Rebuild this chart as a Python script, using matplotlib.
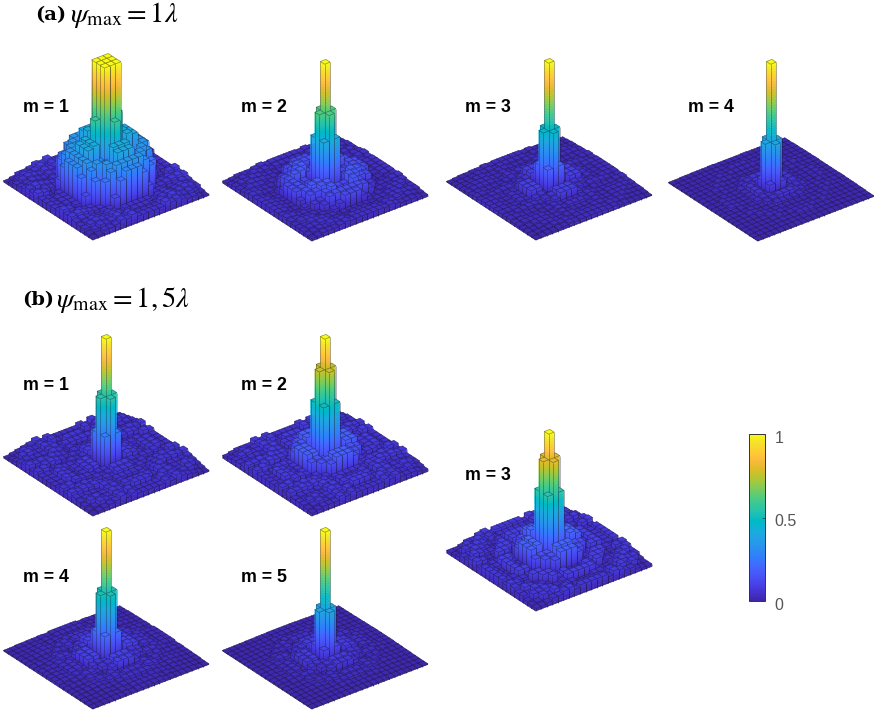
import numpy as np
import matplotlib
matplotlib.use("Agg")
import matplotlib.pyplot as plt
from matplotlib.colors import LinearSegmentedColormap, Normalize
from matplotlib.cm import ScalarMappable
from matplotlib.transforms import ScaledTranslation
from mpl_toolkits.mplot3d.art3d import Poly3DCollection, Line3DCollection

plt.rcParams['font.family'] = ['Liberation Sans', 'DejaVu Sans']
plt.rcParams['mathtext.fontset'] = 'stix'

W, H = 874, 717
N_CELLS = 21

# heights by ring around the centre, one ring every 0.4 cell
a1 = [1., 1, 1, 1, 1, .58, .28, .22, .42, .25, .40, .22, .34, .34, .18, .30, .24, .12,
      .05, .03, .05, .03, .06, .04, .07, .05, .08, .06, .07, .05, .06, .04, .04, .03, .02, .01]
a2 = [1, .62, .62, .62, .42, .04, .04, .06, .11, .17, .09, .16, .13, .13, .08, .12, .07, .04,
      .02, .015, .03, .02, .03, .04, .03, .045, .04, .05, .04, .03, .04, .03, .03, .03, .02, .015]
a3 = [1, .47, .47, .47, .20, .03, .03, .03, .09, .06, .09, .05, .03, .03, .02, .04, .03, .04,
      .02, .035, .02, .03, .02, .03, .02, .03, .025, .03, .02, .02, .015, .015, .015, .01, .01, .005]
a4 = [1, .39, .39, .39, .09, .03, .03, .04, .06, .045, .03, .035, .015, .015, .012, .015, .012, .02,
      .02, .015, .025, .012, .015, .01, .012, .01, .012, .01, .01, .01, .008, .008, .008, .006, .005, .005]
b1 = [1, .55, .55, .55, .27, .02, .03, .05, .08, .05, .07, .04, .05, .05, .02, .03, .05, .03,
      .06, .04, .07, .03, .06, .04, .07, .04, .06, .04, .07, .05, .06, .04, .03, .025, .02, .01]
b2 = [1, .76, .76, .76, .50, .08, .06, .13, .18, .15, .18, .14, .06, .06, .03, .05, .07, .04,
      .07, .04, .08, .05, .07, .04, .08, .05, .07, .05, .07, .04, .06, .04, .04, .03, .03, .02]
b3 = [1, .80, .80, .80, .55, .08, .07, .14, .20, .14, .18, .13, .04, .04, .02, .06, .09, .06,
      .09, .05, .03, .05, .03, .05, .04, .07, .05, .08, .07, .05, .07, .05, .03, .03, .02, .02]
b4 = [1, .52, .52, .52, .22, .02, .03, .06, .10, .07, .09, .06, .03, .03, .015, .05, .03, .05,
      .04, .03, .02, .025, .02, .025, .015, .02, .012, .015, .012, .012, .01, .01, .01, .008, .006, .005]
b5 = [1, .39, .39, .39, .11, .03, .03, .05, .08, .06, .07, .05, .02, .02, .012, .04, .025, .04,
      .03, .02, .012, .02, .012, .015, .01, .012, .01, .01, .008, .008, .008, .006, .006, .005, .005, .005]

labels = ['m = 1', 'm = 2', 'm = 3', 'm = 4', 'm = 1', 'm = 2', 'm = 3', 'm = 4', 'm = 5']
profiles = [a1, a2, a3, a4, b1, b2, b3, b4, b5]
# ground centre of each panel and place of its label, in pixels from top left
centres = [(106, 190), (325, 191), (549, 190), (771, 191),
           (106, 466), (325, 466), (549, 561), (106, 659), (325, 659)]
label_pos = [(23, 107), (241, 108), (465, 108), (688, 107),
             (23, 385), (241, 385), (465, 476), (23, 578), (241, 578)]

parula_colors = [(.2422, .1504, .6603), (.2578, .1818, .7511), (.2706, .2147, .8364), (.2783, .2559, .8991),
                 (.2813, .3006, .9414), (.2795, .3447, .9717), (.2699, .3892, .9906), (.2440, .4358, .9988),
                 (.1963, .4847, .9892), (.1786, .5289, .9682), (.1687, .5703, .9359), (.1460, .6091, .9079),
                 (.1248, .6459, .8883), (.0952, .6798, .8598), (.0297, .7082, .8163), (.0067, .7312, .7660),
                 (.0964, .7500, .7120), (.1717, .7670, .6554), (.2161, .7843, .5923), (.2906, .7973, .5188),
                 (.3909, .8029, .4354), (.5044, .7993, .3480), (.6174, .7876, .2612), (.7242, .7698, .1910),
                 (.8203, .7498, .1535), (.9035, .7330, .1774), (.9728, .7298, .2394), (.9970, .7659, .2199),
                 (.9892, .8136, .1885), (.9676, .8639, .1643), (.9597, .9135, .1423), (.9769, .9839, .0805)]
parula = LinearSegmentedColormap.from_list('parula', parula_colors)

AX_SIZE = 240


def ring_height(profile, i, j):
    r = np.hypot(i - 10, j - 10)
    return float(profile[int(np.floor(r * 2.5 + .5))])


def draw_bar(ax, i, j, h, order):
    x0, x1, y0, y1 = i, i + 1, j, j + 1
    n = max(1, int(np.ceil(h / 0.02)))
    levels = np.linspace(0, h, n + 1)
    polys, cols = [], []
    for k in range(n):
        z0, z1 = levels[k], levels[k + 1]
        c = parula((z0 + z1) / 2)
        polys.append([(x0, y0, z0), (x1, y0, z0), (x1, y0, z1), (x0, y0, z1)])
        polys.append([(x0, y0, z0), (x0, y1, z0), (x0, y1, z1), (x0, y0, z1)])
        cols += [c, c]
    polys.append([(x0, y0, h), (x1, y0, h), (x1, y1, h), (x0, y1, h)])
    cols.append(parula(h))
    ax.add_collection3d(Poly3DCollection(polys, facecolors=cols, edgecolors=cols, linewidths=0.25,
                                         zorder=order), autolim=False)
    segs = [[(x0, y0, h), (x1, y0, h)], [(x1, y0, h), (x1, y1, h)], [(x1, y1, h), (x0, y1, h)],
            [(x0, y1, h), (x0, y0, h)], [(x0, y0, 0), (x0, y0, h)], [(x1, y0, 0), (x1, y0, h)],
            [(x0, y1, 0), (x0, y1, h)], [(x0, y0, 0), (x1, y0, 0)], [(x0, y0, 0), (x0, y1, 0)]]
    ax.add_collection3d(Line3DCollection(segs, colors=[(.08, .08, .15, .45)], linewidths=0.5,
                                         zorder=order + .5), autolim=False)


fig = plt.figure(figsize=(W / 100, H / 100), dpi=100)
fig.patch.set_facecolor('white')

cells = [(i, j) for i in range(N_CELLS) for j in range(N_CELLS)]
cells.sort(key=lambda c: -(.609 * c[0] + .793 * c[1]))

for profile, label, (cx, cy), (lx, ly) in zip(profiles, labels, centres, label_pos):
    # middle of the box sits 65 px above the ground centre, view centre is 3 px off the axes centre
    left = (cx - 3 - AX_SIZE / 2) / W
    bottom = 1 - (cy - 65 + 3 + AX_SIZE / 2) / H
    ax = fig.add_axes([left, bottom, AX_SIZE / W, AX_SIZE / H], projection='3d')
    ax.set_proj_type('ortho')
    ax.computed_zorder = False
    ax.view_init(elev=30, azim=-127.5)
    ax.set_box_aspect((1, 1, 1.008), zoom=1.029)
    for n, (i, j) in enumerate(cells):
        draw_bar(ax, i, j, ring_height(profile, i, j), n)
    ax.set_xlim(0, N_CELLS)
    ax.set_ylim(0, N_CELLS)
    ax.set_zlim(0, 1)
    ax.set_axis_off()
    ax.patch.set_alpha(0)
    fig.text(lx / W, 1 - ly / H, label, fontsize=12.8, fontweight='bold', va='center', ha='left', color='black')

# section titles
fig.text(35 / W, 1 - 15 / H, '(a)', family='DejaVu Serif', fontweight='bold', fontsize=14, va='center')
fig.text(70 / W, 1 - 15 / H, r'$\psi_{\mathrm{max}} = 1\lambda$', fontsize=20.5, va='center')
fig.text(22 / W, 1 - 300 / H, '(b)', family='DejaVu Serif', fontweight='bold', fontsize=14, va='center')
fig.text(56 / W, 1 - 300 / H, r'$\psi_{\mathrm{max}} = 1,5\lambda$', fontsize=20.5, va='center')

# colour bar
cax = fig.add_axes([749 / W, 1 - 601 / H, 16 / W, 167 / H])
cb = fig.colorbar(ScalarMappable(norm=Normalize(0, 1), cmap=parula), cax=cax, ticks=[0, .5, 1])
cb.ax.set_yticklabels(['0', '0.5', '1'])
cb.ax.tick_params(direction='in', length=2, width=.5, labelsize=11.5, labelcolor='#555555', color='#333333', pad=7)
cb.outline.set_linewidth(.7)
cb.outline.set_edgecolor('#333333')
for tl in cb.ax.get_yticklabels():
    tl.set_transform(tl.get_transform() + ScaledTranslation(0, -2 / 72, fig.dpi_scale_trans))

fig.savefig('out.png', dpi=100)
